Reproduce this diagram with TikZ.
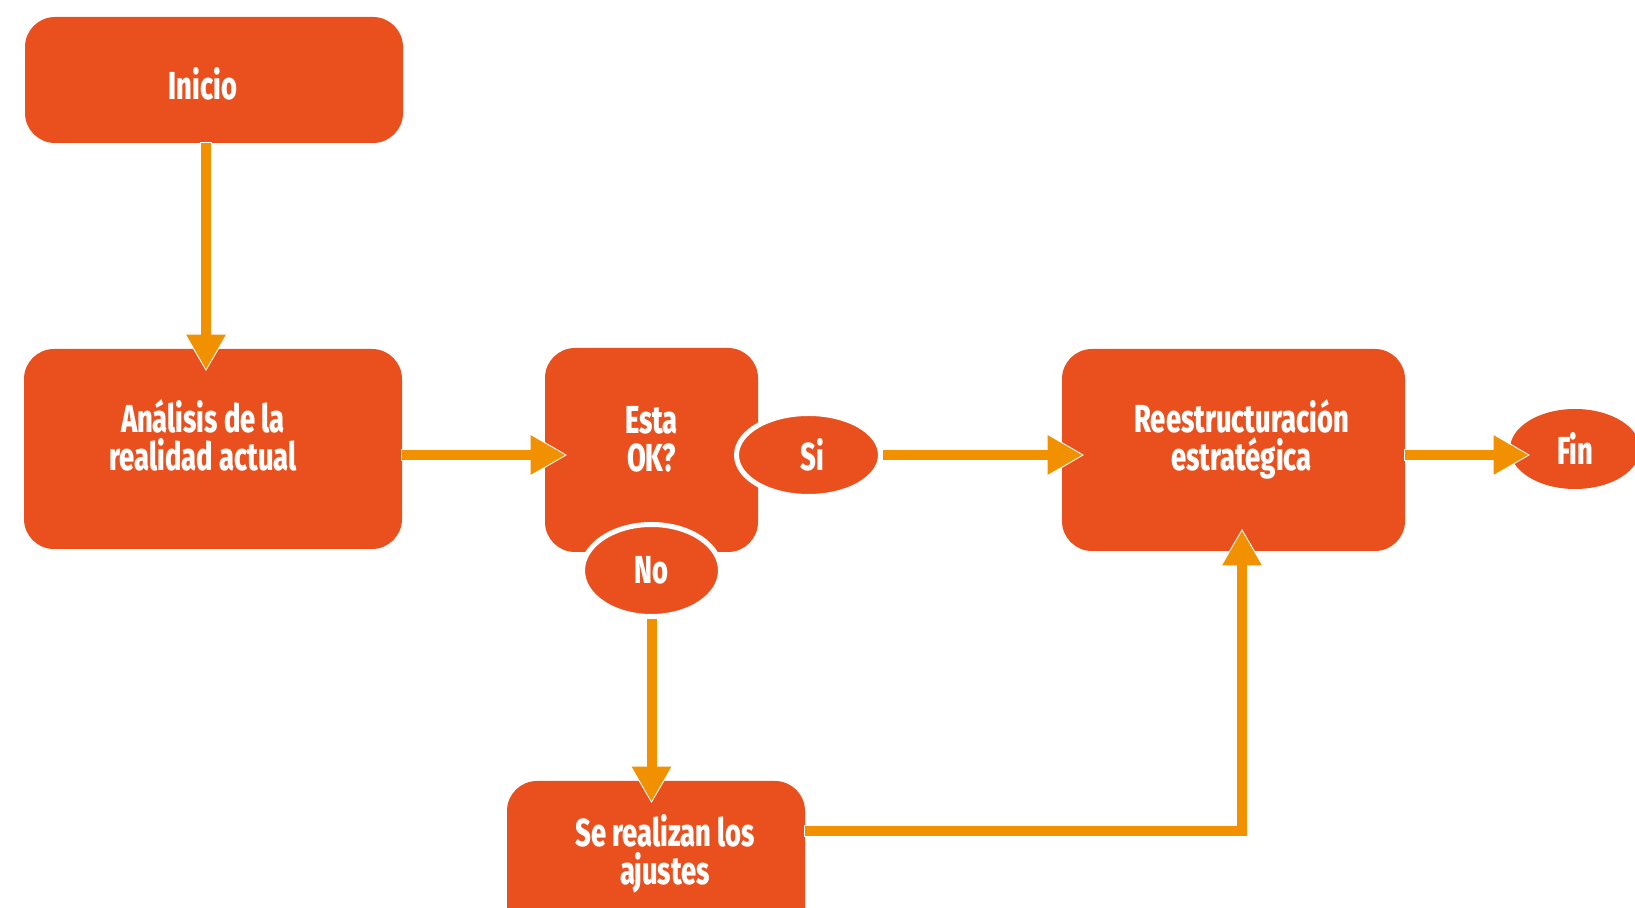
\documentclass[tikz,border=0pt]{standalone}
\usepackage{fontspec}
\newfontfamily\condfont{Fira Sans}[UprightFont=* ExtraBold, BoldFont=* ExtraBold, FakeStretch=0.70]
\usetikzlibrary{arrows.meta,shapes.geometric}
\definecolor{boxor}{HTML}{E9501E}
\definecolor{arrowor}{HTML}{F29100}
% #1 horizontal shift (pt = 2x px), #2 first baseline above node centre (pt)
\newcommand\boxtext[3]{\hspace*{#1}\raisebox{#2}[0pt][0pt]{\begin{tabular}[t]{@{}c@{}}#3\end{tabular}}}
\begin{document}
\begin{tikzpicture}[x=0.5pt,y=-0.5pt,
  lbl/.style={text=white, font=\condfont\fontsize{19.5pt}{19pt}\selectfont},
  box/.style={lbl, fill=boxor, draw=none, rounded corners=15pt, inner sep=0pt},
  oval/.style={lbl, ellipse, fill=boxor, draw=white, line width=2.5pt, inner sep=0pt},
  conn/.style={draw=arrowor, line width=5pt, shorten >=-10.5pt,
    -{Triangle[length=17.5pt,width=18.5pt]},
    preaction={draw=white, line width=6pt, shorten >=-11.5pt, shorten <=-0.6pt,
      -{Triangle[length=20.5pt,width=22pt]}}}]
\fill[white] (0,0) rectangle (1635,908);
\useasboundingbox (0,0) rectangle (1635,908);
\clip (0,0) rectangle (1635,908);
% boxes
\node[box, minimum width=189pt, minimum height=63pt] (inicio) at (214,80) {\boxtext{-11pt}{-10pt}{Inicio}};
\node[box, minimum width=189pt, minimum height=100pt] (analisis) at (213,449) {\boxtext{-10pt}{8pt}{\smash{Análisis de la}\\\smash{realidad actual}}};
\node[box, minimum width=106.5pt, minimum height=102pt] (esta) at (651.5,450) {\boxtext{0pt}{8.3pt}{\smash{Esta}\\\smash{OK?}}};
\node[box, minimum width=171.5pt, minimum height=101pt] (reestr) at (1233.5,450) {\boxtext{8pt}{8.5pt}{\smash{Reestructuración}\\\smash{estratégica}}};
\node[box, minimum width=149pt, minimum height=78pt] (serealizan) at (656,859) {\boxtext{9pt}{6pt}{\smash{Se realizan los}\\\smash{ajustes}}};
% ovals
\node[oval, minimum width=72pt, minimum height=41.5pt] (si) at (808.5,455) {\hspace*{4pt}Si};
\node[oval, minimum width=69pt, minimum height=46pt] (no) at (651.5,570.5) {No};
\node[oval, draw=none, minimum width=65pt, minimum height=40pt] (fin) at (1575,449) {Fin};
% connectors
\coordinate (c1) at (206,0);
\coordinate (bend) at (1242,831);
\draw[conn] (inicio.south -| c1) -- (analisis.north -| c1);
\draw[conn] (analisis.east |- si.center) -- (esta.west |- si.center);
\draw[conn] (si.east) -- (reestr.west |- si.east);
\draw[conn] (reestr.east |- si.center) -- (fin.west |- si.center);
\draw[conn] (no.south) -- (serealizan.north -| no.south);
\draw[conn] (serealizan.east |- bend) -- (bend) -- (reestr.south -| bend);
\end{tikzpicture}
\end{document}
